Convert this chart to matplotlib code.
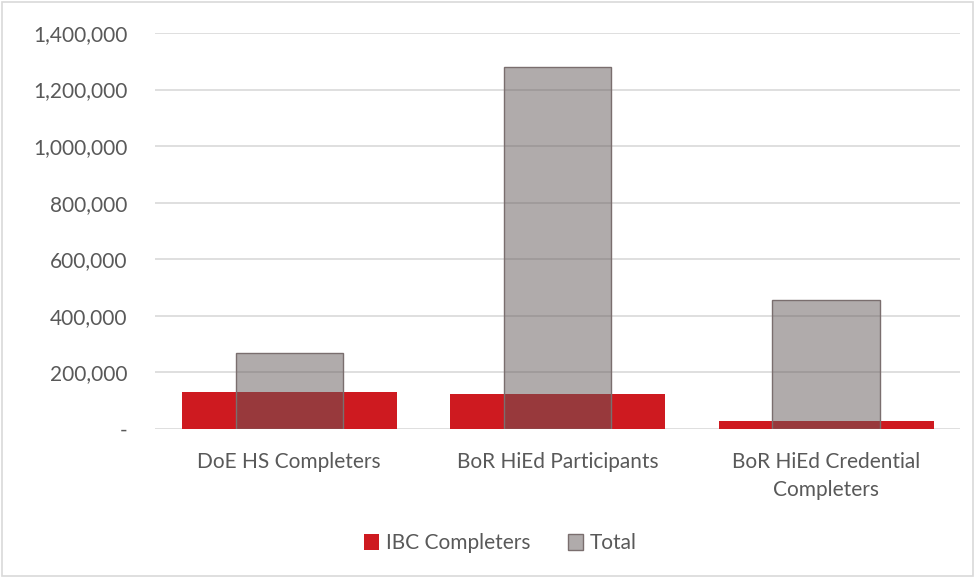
import matplotlib.pyplot as plt
import numpy as np
from matplotlib.ticker import FuncFormatter

categories = ['DoE HS Completers', 'BoR HiEd Participants', 'BoR HiEd Credential\nCompleters']
ibc_completers = [132000, 124000, 28000]
total = [268000, 1278000, 457000]
series_names = ['IBC Completers', 'Total']

plt.rcParams['font.family'] = ['Lato', 'DejaVu Sans']

fig = plt.figure(figsize=(9.75, 5.78), dpi=100)
ax = fig.add_axes([0.159, 0.258, 0.826, 0.685])

x = np.arange(len(categories))
ax.bar(x, ibc_completers, width=0.8, color='#CE1A20', label=series_names[0], zorder=2)
ax.bar(x, total, width=0.4, color=(0.39, 0.35, 0.35, 0.5), edgecolor='#7A6E6E',
       linewidth=1, label=series_names[1], zorder=3)

ax.set_ylim(0, 1400000)
ax.set_xlim(-0.5, 2.5)
ax.set_yticks(np.arange(0, 1400001, 200000))
ax.yaxis.set_major_formatter(FuncFormatter(lambda v, p: '-' if v == 0 else f'{int(v):,}'))
ax.set_xticks(x)
ax.set_xticklabels(categories, linespacing=1.45)

ax.grid(axis='y', color='#D9D9D9', linewidth=1.2, zorder=0)
ax.set_axisbelow(True)
for s in ['top', 'right', 'left', 'bottom']:
    ax.spines[s].set_visible(False)
ax.tick_params(axis='both', length=0, labelsize=15, colors='#595959')
ax.tick_params(axis='y', pad=20)
ax.tick_params(axis='x', pad=17)

leg = fig.legend(loc='center', bbox_to_anchor=(0.513, 0.06), ncol=2, frameon=False,
                 fontsize=15, handlelength=0.75, handleheight=0.75, columnspacing=1.8,
                 handletextpad=0.3)
for t in leg.get_texts():
    t.set_color('#595959')

# light frame round the whole chart
fig.patches.append(plt.Rectangle((0.002, 0.003), 0.996, 0.994, transform=fig.transFigure,
                                 fill=False, edgecolor='#D9D9D9', linewidth=1.2))

fig.savefig('out.png', dpi=100)
